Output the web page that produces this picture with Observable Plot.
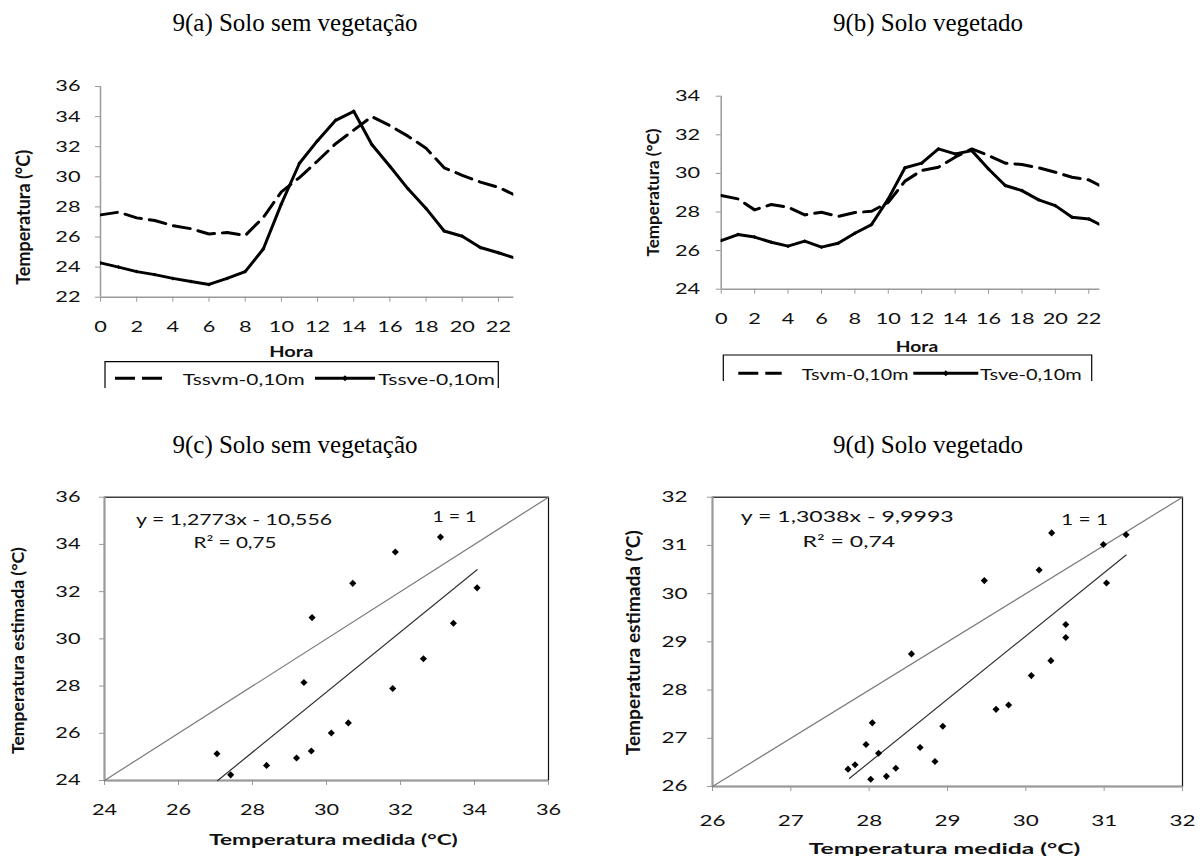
<!DOCTYPE html>
<html><head><meta charset="utf-8">
<script src="https://cdn.jsdelivr.net/npm/d3@7"></script>
<script src="https://cdn.jsdelivr.net/npm/@observablehq/plot@0.6"></script>
<style>
body{margin:0;background:#fff;}
#page{position:relative;width:1203px;height:856px;overflow:hidden;background:#fff;}
.chart{position:absolute;}
#overlay{position:absolute;left:0;top:0;pointer-events:none;}
</style></head><body><div id="page"></div>
<script>
// ---------- data ----------
const hours = [0,1,2,3,4,5,6,7,8,9,10,11,12,13,14,15,16,17,18,19,20,21,22,23];
const hourTicks = [0,2,4,6,8,10,12,14,16,18,20,22];

// 9(a) Solo sem vegetação
const tssvm = [27.47,27.65,27.27,27.1,26.75,26.55,26.2,26.3,26.1,27.3,29.0,29.95,31.05,32.2,33.1,34.0,33.4,32.7,31.9,30.6,30.1,29.65,29.3,28.74];
const tssve = [24.28,24.0,23.7,23.5,23.25,23.05,22.85,23.25,23.7,25.2,28.2,30.9,32.4,33.75,34.35,32.15,30.7,29.2,27.9,26.4,26.05,25.3,24.95,24.57];
const aYTicks = [22,24,26,28,30,32,34,36];

// 9(b) Solo vegetado
const tsvm = [28.85,28.68,28.11,28.39,28.25,27.85,27.99,27.77,27.97,28.04,28.5,29.6,30.15,30.32,30.84,31.27,30.93,30.53,30.46,30.29,30.06,29.8,29.66,29.22];
const tsve = [26.52,26.83,26.7,26.43,26.23,26.49,26.18,26.38,26.9,27.35,28.68,30.29,30.53,31.27,31.01,31.18,30.23,29.37,29.11,28.63,28.33,27.73,27.64,27.2];
const bYTicks = [24,26,28,30,32,34];

// 9(c) scatter
const cMedida = [27.04,27.41,28.38,29.19,29.39,29.59,29.61,30.13,30.59,30.71,31.79,31.86,32.62,33.08,33.43,34.07];
const cEstimada = [25.13,24.24,24.64,24.95,28.15,25.25,30.9,26.01,26.44,32.35,27.9,33.68,29.16,34.31,30.66,32.16];
const cTrendX = [27.06,34.07];
const cTrendY = [24.0,32.93];
const cOneX = [24,36];
const cTicks = [24,26,28,30,32,34,36];
const cEq = "y = 1,2773x - 10,556";
const cR2 = "R² = 0,75";

// 9(d) scatter
const dMedida = [27.73,27.82,27.96,28.02,28.04,28.12,28.22,28.34,28.54,28.65,28.84,28.94,29.47,29.62,29.78,30.07,30.17,30.32,30.33,30.51,30.51,30.99,31.03,31.28];
const dEstimada = [26.36,26.45,26.87,26.15,27.32,26.69,26.21,26.38,28.75,26.81,26.52,27.25,30.27,27.6,27.69,28.3,30.49,28.61,31.26,29.09,29.36,31.02,30.22,31.22];
const dTrendX = [27.75,31.28];
const dTrendY = [26.17,30.8];
const dOneX = [26,32];
const dTicks = [26,27,28,29,30,31,32];
const dEq = "y = 1,3038x - 9,9993";
const dR2 = "R² = 0,74";
const oneLabel = "1 = 1";

// ---------- helpers ----------
const page = document.getElementById("page");
const AX = "#9a9a9a";
const TXT = "#111";
const FONT = "Lato, 'Open Sans', sans-serif";
const baseStyle = {fontFamily: FONT, fontSize: "16px", color: TXT, background: "transparent", overflow: "visible"};
const intFmt = d => String(d);

function place(svg, left, top) {
  svg.classList.add("chart");
  svg.style.left = left + "px";
  svg.style.top = top + "px";
  page.appendChild(svg);
  return svg;
}
function stretchAxes(root, k) {
  root.querySelectorAll('g[aria-label$="tick label"] text').forEach(t => {
    const L = t.getComputedTextLength();
    if (L > 0) {
      t.setAttribute("textLength", (L * k).toFixed(2));
      t.setAttribute("lengthAdjust", "spacingAndGlyphs");
    }
  });
}
function fitTexts(root, lens) {
  const texts = root.querySelectorAll('g[aria-label="text"] text');
  texts.forEach((t, i) => {
    if (lens[i]) { t.setAttribute("textLength", lens[i]); t.setAttribute("lengthAdjust", "spacingAndGlyphs"); }
  });
}
function fitLength(el, target) {
  el.setAttribute("textLength", target);
  el.setAttribute("lengthAdjust", "spacingAndGlyphs");
}
function fitFont(el, target) {
  const fs = parseFloat(el.getAttribute("font-size"));
  const L = el.getComputedTextLength();
  if (L > 0) el.setAttribute("font-size", (fs * target / L).toFixed(2));
}

function linePlot({width, height, ml, mr, mt, mb, xmax, ydom, yTicks, yPad, xPad, dashed, solid}) {
  return Plot.plot({
    width, height, marginLeft: ml, marginRight: mr, marginTop: mt, marginBottom: mb,
    x: {domain: [0, xmax]}, y: {domain: ydom},
    style: baseStyle,
    marks: [
      Plot.axisX({ticks: hourTicks, tickFormat: intFmt, tickSize: 5, tickPadding: xPad, stroke: AX, fill: TXT, label: null, fontSize: 15.5}),
      Plot.axisY({ticks: yTicks, tickFormat: intFmt, tickSize: 5, tickPadding: yPad, stroke: AX, fill: TXT, label: null, fontSize: 15.5}),
      Plot.ruleX([0], {stroke: AX, strokeWidth: 1.5}),
      Plot.ruleY([ydom[0]], {stroke: AX, strokeWidth: 1.5}),
      Plot.line(hours, {x: d => d, y: (d, i) => dashed[i], stroke: "#000", strokeWidth: 3, strokeDasharray: "17,8", clip: true}),
      Plot.line(hours, {x: d => d, y: (d, i) => solid[i], stroke: "#000", strokeWidth: 3, clip: true}),
      Plot.dot(hours, {x: d => d, y: (d, i) => solid[i], r: 1.8, symbol: "diamond2", fill: "#000", stroke: "none", clip: true})
    ]
  });
}

// scatter annotations are positioned relative to the frame's top-left corner
function scatter(opts) {
  const {eqPos, r2Pos, onePos} = opts;
  return Plot.plot({
    width: opts.width, height: opts.height, marginLeft: opts.ml, marginRight: opts.mr, marginTop: opts.mt, marginBottom: opts.mb,
    x: {domain: opts.dom}, y: {domain: opts.dom},
    style: baseStyle,
    marks: [
      Plot.frame({stroke: "#111", strokeWidth: 1.2}),
      Plot.axisX({ticks: opts.ticks, tickFormat: intFmt, tickSize: 5, tickPadding: opts.xPad, stroke: AX, fill: TXT, label: null, fontSize: 15.5}),
      Plot.axisY({ticks: opts.ticks, tickFormat: intFmt, tickSize: 5, tickPadding: opts.yPad, stroke: AX, fill: TXT, label: null, fontSize: 15.5}),
      Plot.ruleX([opts.dom[0]], {stroke: AX, strokeWidth: 2}),
      Plot.ruleY([opts.dom[0]], {stroke: AX, strokeWidth: 2}),
      Plot.line(opts.one, {x: d => d, y: d => d, stroke: "#7a7a7a", strokeWidth: 1.2}),
      Plot.line(opts.tx, {x: d => d, y: (d, i) => opts.ty[i], stroke: "#333", strokeWidth: 1.2}),
      Plot.dot(opts.mx, {x: d => d, y: (d, i) => opts.my[i], r: 3.2, symbol: "diamond2", fill: "#000", stroke: "none"}),
      Plot.text([opts.eq], {text: d => d, frameAnchor: "top-left", dx: eqPos[0], dy: eqPos[1], textAnchor: "middle", lineAnchor: "middle", fontSize: 15, fill: TXT}),
      Plot.text([opts.r2], {text: d => d, frameAnchor: "top-left", dx: r2Pos[0], dy: r2Pos[1], textAnchor: "middle", lineAnchor: "middle", fontSize: 15, fill: TXT}),
      Plot.text([oneLabel], {text: d => d, frameAnchor: "top-left", dx: onePos[0], dy: onePos[1], textAnchor: "middle", lineAnchor: "middle", fontSize: 15, fill: TXT})
    ]
  });
}

// ---------- charts ----------
const chA = place(linePlot({width: 560, height: 320, ml: 100, mr: 46.7, mt: 26, mb: 83.3, xmax: 22.85, ydom: [22, 36], yTicks: aYTicks, yPad: 15, xPad: 19, dashed: tssvm, solid: tssve}), 0, 60);
const chB = place(linePlot({width: 603, height: 320, ml: 120.7, mr: 103.7, mt: 35.7, mb: 91.3, xmax: 22.66, ydom: [24, 34], yTicks: bYTicks, yPad: 16, xPad: 18.5, dashed: tsvm, solid: tsve}), 600, 60);
const chC = place(scatter({width: 575, height: 386, ml: 104, mr: 27, mt: 26.7, mb: 76, dom: [24, 36], ticks: cTicks, yPad: 19, xPad: 18.5,
  mx: cMedida, my: cEstimada, tx: cTrendX, ty: cTrendY, one: cOneX, eq: cEq, r2: cR2, eqPos: [129.6, 23.4], r2Pos: [130.5, 46.2], onePos: [349.9, 20.1]}), 0, 470);
const chD = place(scatter({width: 603, height: 386, ml: 112, mr: 21, mt: 26.7, mb: 70, dom: [26, 32], ticks: dTicks, yPad: 20, xPad: 23,
  mx: dMedida, my: dEstimada, tx: dTrendX, ty: dTrendY, one: dOneX, eq: dEq, r2: dR2, eqPos: [134.7, 20], r2Pos: [136.3, 45.1], onePos: [372, 23.3]}), 600, 470);

stretchAxes(chA, 1.4);
stretchAxes(chB, 1.4);
stretchAxes(chC, 1.4);
stretchAxes(chD, 1.45);
fitTexts(chC, [196, 83, 44]);
fitTexts(chD, [213, 92.6, 47]);

// ---------- titles, axis titles, legends ----------
const ov = d3.select(page).append("svg").attr("id", "overlay").attr("width", 1203).attr("height", 856);
const titles = [
  {t: "9(a) Solo sem vegetação", x: 295, y: 30.5},
  {t: "9(b) Solo vegetado", x: 928, y: 30.5},
  {t: "9(c) Solo sem vegetação", x: 295, y: 453},
  {t: "9(d) Solo vegetado", x: 928, y: 453}
];
titles.forEach(d => ov.append("text").attr("x", d.x).attr("y", d.y).attr("text-anchor", "middle")
  .attr("font-family", "'Liberation Serif', 'Times New Roman', serif").attr("font-size", 25)
  .attr("fill", "#000").text(d.t));

const yTitles = [
  {t: "Temperatura (°C)", x: 23.3, y: 217.3, len: 135},
  {t: "Temperatura (°C)", x: 652.3, y: 192.5, len: 128},
  {t: "Temperatura estimada (°C)", x: 17, y: 650.5, len: 207},
  {t: "Temperatura estimada (°C)", x: 632, y: 642.8, len: 225}
];
yTitles.forEach(d => {
  const el = ov.append("text").attr("transform", `translate(${d.x},${d.y}) rotate(-90)`)
    .attr("text-anchor", "middle").attr("dominant-baseline", "central")
    .attr("font-family", FONT).attr("font-size", 16).attr("font-weight", "bold")
    .attr("fill", TXT).text(d.t).node();
  fitFont(el, d.len);
});

const xTitles = [
  {t: "Hora", x: 291.3, y: 350, len: 44},
  {t: "Hora", x: 917, y: 345, len: 42.3},
  {t: "Temperatura medida (°C)", x: 333.5, y: 838, len: 248.6},
  {t: "Temperatura medida (°C)", x: 944.5, y: 847, len: 271.7}
];
xTitles.forEach(d => {
  const el = ov.append("text").attr("x", d.x).attr("y", d.y).attr("text-anchor", "middle").attr("dominant-baseline", "central")
    .attr("font-family", FONT).attr("font-size", 16).attr("font-weight", "bold")
    .attr("fill", TXT).text(d.t).node();
  fitLength(el, d.len);
});

function legend(o) {
  const g = ov.append("g");
  g.append("path").attr("d", `M${o.left},${o.bottom}V${o.top}H${o.right}V${o.bottom}`)
    .attr("fill", "none").attr("stroke", "#000").attr("stroke-width", 1.2);
  g.append("line").attr("x1", o.dash[0]).attr("x2", o.dash[1]).attr("y1", o.y).attr("y2", o.y)
    .attr("stroke", "#000").attr("stroke-width", 3).attr("stroke-dasharray", "20,7");
  g.append("line").attr("x1", o.solid[0]).attr("x2", o.solid[1]).attr("y1", o.y).attr("y2", o.y)
    .attr("stroke", "#000").attr("stroke-width", 3);
  const mid = (o.solid[0] + o.solid[1]) / 2;
  g.append("path").attr("d", `M${mid},${o.y - 3}L${mid + 3},${o.y}L${mid},${o.y + 3}L${mid - 3},${o.y}Z`).attr("fill", "#000");
  [[o.t1, o.x1, o.l1], [o.t2, o.x2, o.l2]].forEach(([t, x, len]) => {
    const el = g.append("text").attr("x", x).attr("y", o.y).attr("dominant-baseline", "central")
      .attr("font-family", FONT).attr("font-size", 16).attr("fill", TXT).text(t).node();
    fitLength(el, len);
  });
}
legend({left: 105, right: 498.3, top: 361.7, bottom: 388, y: 378.3, dash: [115, 163.3], solid: [315, 375],
  t1: "Tssvm-0,10m", x1: 182.7, l1: 122, t2: "Tssve-0,10m", x2: 378.3, l2: 116.7});
legend({left: 723.3, right: 1091.7, top: 355, bottom: 381, y: 373.3, dash: [738.3, 781.7], solid: [913.3, 978.3],
  t1: "Tsvm-0,10m", x1: 801.7, l1: 106.7, t2: "Tsve-0,10m", x2: 980, l2: 101.7});
</script>
</body></html>
